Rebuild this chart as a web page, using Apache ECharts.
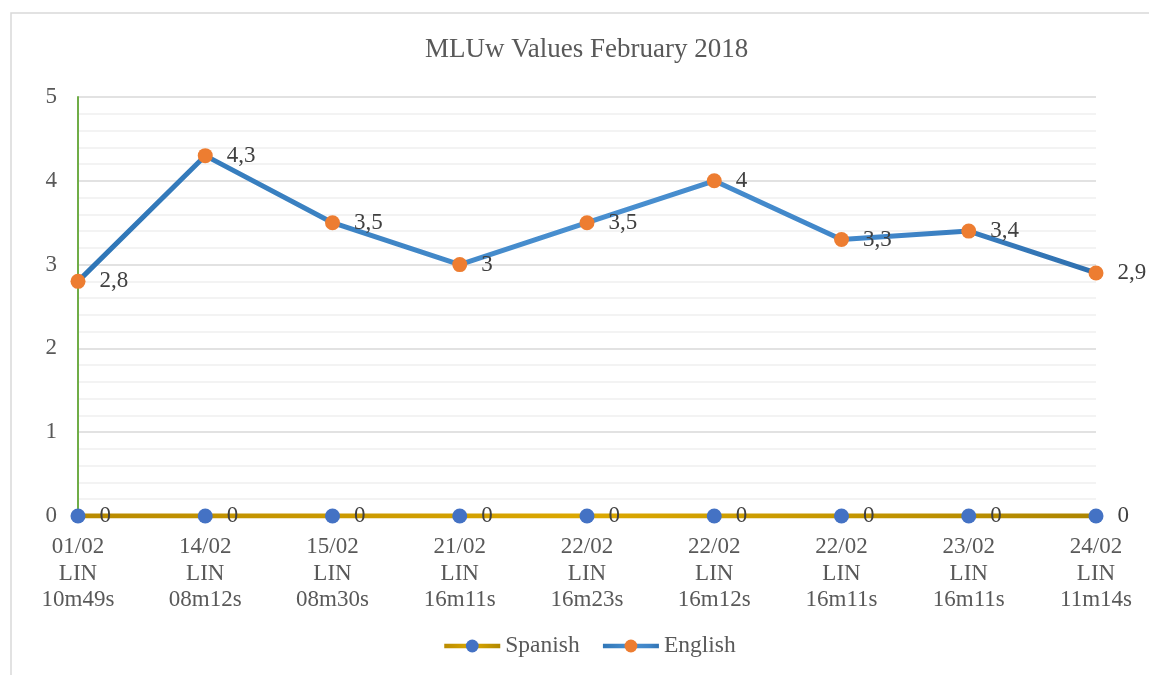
<!DOCTYPE html>
<html>
<head>
<meta charset="utf-8">
<script src="https://cdn.jsdelivr.net/npm/echarts@6/dist/echarts.min.js"></script>
<style>
html,body{margin:0;padding:0;background:#fff;}
#c{width:1149px;height:675px;}
</style>
</head>
<body>
<div id="c"></div>
<script>
const categories = ["01/02\nLIN\n10m49s","14/02\nLIN\n08m12s","15/02\nLIN\n08m30s","21/02\nLIN\n16m11s","22/02\nLIN\n16m23s","22/02\nLIN\n16m12s","22/02\nLIN\n16m11s","23/02\nLIN\n16m11s","24/02\nLIN\n11m14s"];
const spanish = [0,0,0,0,0,0,0,0,0];
const english = [2.8,4.3,3.5,3,3.5,4,3.3,3.4,2.9];
const yTicks = [0,1,2,3,4,5];

const FONT = '"Liberation Serif","Times New Roman",serif';
const TXT = '#595959';
const chart = echarts.init(document.getElementById('c'));
const fmt = p => String(p.value).replace('.', ',');

const engGrad = new echarts.graphic.LinearGradient(0,0,1,0,[
  {offset:0,color:'#2E75B6'},{offset:0.5,color:'#4A90D0'},{offset:0.8,color:'#3F85C8'},{offset:1,color:'#2E6FAE'}]);
const spaGrad = new echarts.graphic.LinearGradient(0,0,1,0,[
  {offset:0,color:'#B88A00'},{offset:0.5,color:'#DCA800'},{offset:1,color:'#AD8500'}]);

chart.setOption({
  animation:false,
  backgroundColor:'#fff',
  graphic:[{type:'polyline',shape:{points:[[11,700],[11,13],[1200,13]]},style:{stroke:'#D9D9D9',lineWidth:1.5,fill:null},z:0}],
  title:{text:'MLUw Values February 2018',left:420,top:31,
    textStyle:{fontFamily:FONT,fontSize:27,fontWeight:'normal',color:TXT}},
  legend:{bottom:12,left:437,itemWidth:56,itemHeight:16,itemGap:21,
    lineStyle:{width:4.5},
    textStyle:{fontFamily:FONT,fontSize:23.5,color:TXT,padding:[0,0,0,0]},
    data:['Spanish','English']},
  grid:{left:78,right:53,top:97,bottom:159,containLabel:false},
  xAxis:{type:'category',data:categories,boundaryGap:false,
    axisLine:{show:false},axisTick:{show:false},
    axisLabel:{fontFamily:FONT,fontSize:23,color:TXT,lineHeight:26.5,margin:18,interval:0}},
  yAxis:{type:'value',min:0,max:5,interval:1,
    axisLine:{show:true,lineStyle:{color:'#70AD47',width:2}},
    axisTick:{show:false},
    axisLabel:{fontFamily:FONT,fontSize:23,color:TXT,margin:21,
      formatter:v=>yTicks.includes(v)?String(v):''},
    splitLine:{lineStyle:{color:'#D9D9D9',width:1.5}},
    minorTick:{show:false,splitNumber:5},
    minorSplitLine:{show:true,lineStyle:{color:'#F0F0F0',width:1.5}}},
  series:[
    {name:'Spanish',type:'line',data:spanish,symbol:'circle',symbolSize:15,
      lineStyle:{color:spaGrad,width:5},itemStyle:{color:'#4472C4'},
      label:{show:true,position:'right',distance:14,formatter:fmt,fontFamily:FONT,fontSize:23,color:'#404040'},
      z:2},
    {name:'English',type:'line',data:english,symbol:'circle',symbolSize:15,
      lineStyle:{color:engGrad,width:5},itemStyle:{color:'#ED7D31'},
      label:{show:true,position:'right',distance:14,formatter:fmt,fontFamily:FONT,fontSize:23,color:'#404040'},
      z:3}
  ]
});
</script>
</body>
</html>
